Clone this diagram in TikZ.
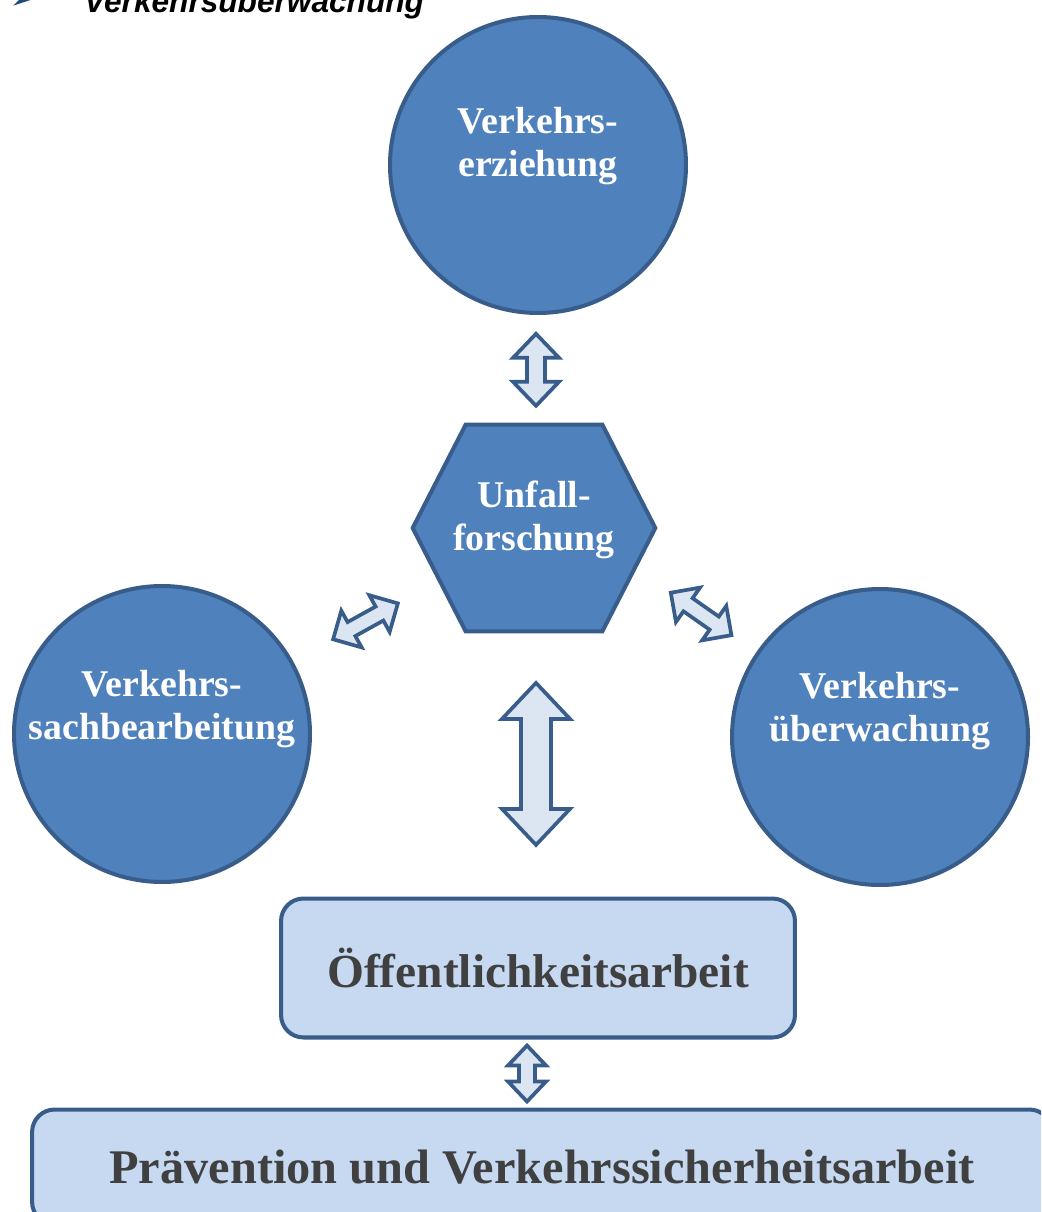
\documentclass[tikz,border=0pt]{standalone}
\usepackage{fontspec}
\setmainfont{Liberation Serif}
\newfontfamily\headfont{Liberation Sans}
\newfontfamily\symfont{DejaVu Sans}
\usetikzlibrary{calc}

\definecolor{discblue}{HTML}{4F81BD}
\definecolor{rimblue}{HTML}{385D8A}
\definecolor{paleblue}{HTML}{C6D9F1}
\definecolor{arrowfill}{HTML}{DCE6F2}
\definecolor{textgray}{HTML}{404040}
\definecolor{bulletblue}{HTML}{1F497D}

\begin{document}
\begin{tikzpicture}[
    x=0.02cm, y=-0.02cm,
    disc/.style={circle, draw=rimblue, fill=discblue, line width=2.3pt, minimum size=5.92cm, inner sep=0pt},
    disctext/.style={text=white, font=\fontsize{21.5}{24.5}\selectfont\bfseries, align=center},
    hexbox/.style={minimum width=4.84cm, minimum height=4.12cm, inner sep=0pt},
    hexshape/.style={draw=rimblue, fill=discblue, line width=2.3pt},
    panel/.style={draw=rimblue, fill=paleblue, line width=2.3pt, rounded corners=0.45cm, text=textgray, font=\fontsize{27}{32}\selectfont\bfseries},
    arrowbox/.style={draw=rimblue, fill=arrowfill, line width=2.1pt},
    pics/dblarr/.style n args={4}{code={
      \draw[arrowbox] (-#1/2,0) -- (-#1/2+#4,#3/2) -- (-#1/2+#4,#2/2) -- (#1/2-#4,#2/2)
        -- (#1/2-#4,#3/2) -- (#1/2,0) -- (#1/2-#4,-#3/2) -- (#1/2-#4,-#2/2)
        -- (-#1/2+#4,-#2/2) -- (-#1/2+#4,-#3/2) -- cycle;
    }}
]
\useasboundingbox (0,0) rectangle (1041,1212);
\clip (0,0) rectangle (1041,1212);

% heading, cut off at the top
\node[anchor=base west, font=\symfont\fontsize{26}{28}\selectfont, text=bulletblue] (bullet) at (2,11) {➢};
\node[anchor=base west, font=\headfont\fontsize{18}{20}\selectfont\bfseries\itshape] (headline) at (78,13) {Verkehrsüberwachung};

% circles
\node[disc] (erz) at (538,165) {};
\node[disctext] (erz-text) at ([yshift=0.38cm]erz.center) {Verkehrs-\\erziehung};
\node[disc] (sach) at (162,734) {};
\node[disctext] (sach-text) at ([yshift=0.5cm]sach.center) {Verkehrs-\\sachbearbeitung};
\node[disc] (uew) at (880,737) {};
\node[disctext] (uew-text) at ([yshift=0.52cm]uew.center) {Verkehrs-\\überwachung};

% hexagon
\node[hexbox] (unf) at (534,528) {};
\draw[hexshape] (unf.west) -- ([xshift=1.06cm]unf.north west) -- ([xshift=-1.06cm]unf.north east)
  -- (unf.east) -- ([xshift=-1.06cm]unf.south east) -- ([xshift=1.06cm]unf.south west) -- cycle;
\node[disctext] (unf-text) at ([yshift=0.16cm]unf.center) {Unfall-\\forschung};

% boxes
\node[panel, minimum width=10.28cm, minimum height=2.78cm] (oeff) at (538,968) {Öffentlichkeitsarbeit};
\node[panel, minimum width=20.4cm, minimum height=2.3cm, font=\fontsize{27.5}{32}\selectfont\bfseries] (praev) at (542,1167) {Prävention und Verkehrssicherheitsarbeit};

% block arrows
\pic[rotate=90] at ($(erz.south)!0.5!(unf.north)$) {dblarr={72}{18}{46}{24}};
\pic[rotate=29] at ($(sach)!0.547!(unf)$) {dblarr={74}{16}{42}{21}};
\pic[rotate=-35] at ($(unf)!0.483!(uew)+(0,-15)$) {dblarr={74}{16}{42}{21}};
\pic[rotate=90] at ($(unf.south)!0.5!(oeff.north)$) {dblarr={162}{30}{68}{36}};
\pic[rotate=90] at ($(oeff.south)!0.5!(praev.north)+(-13,0)$) {dblarr={56}{16}{38}{20}};
\end{tikzpicture}
\end{document}
